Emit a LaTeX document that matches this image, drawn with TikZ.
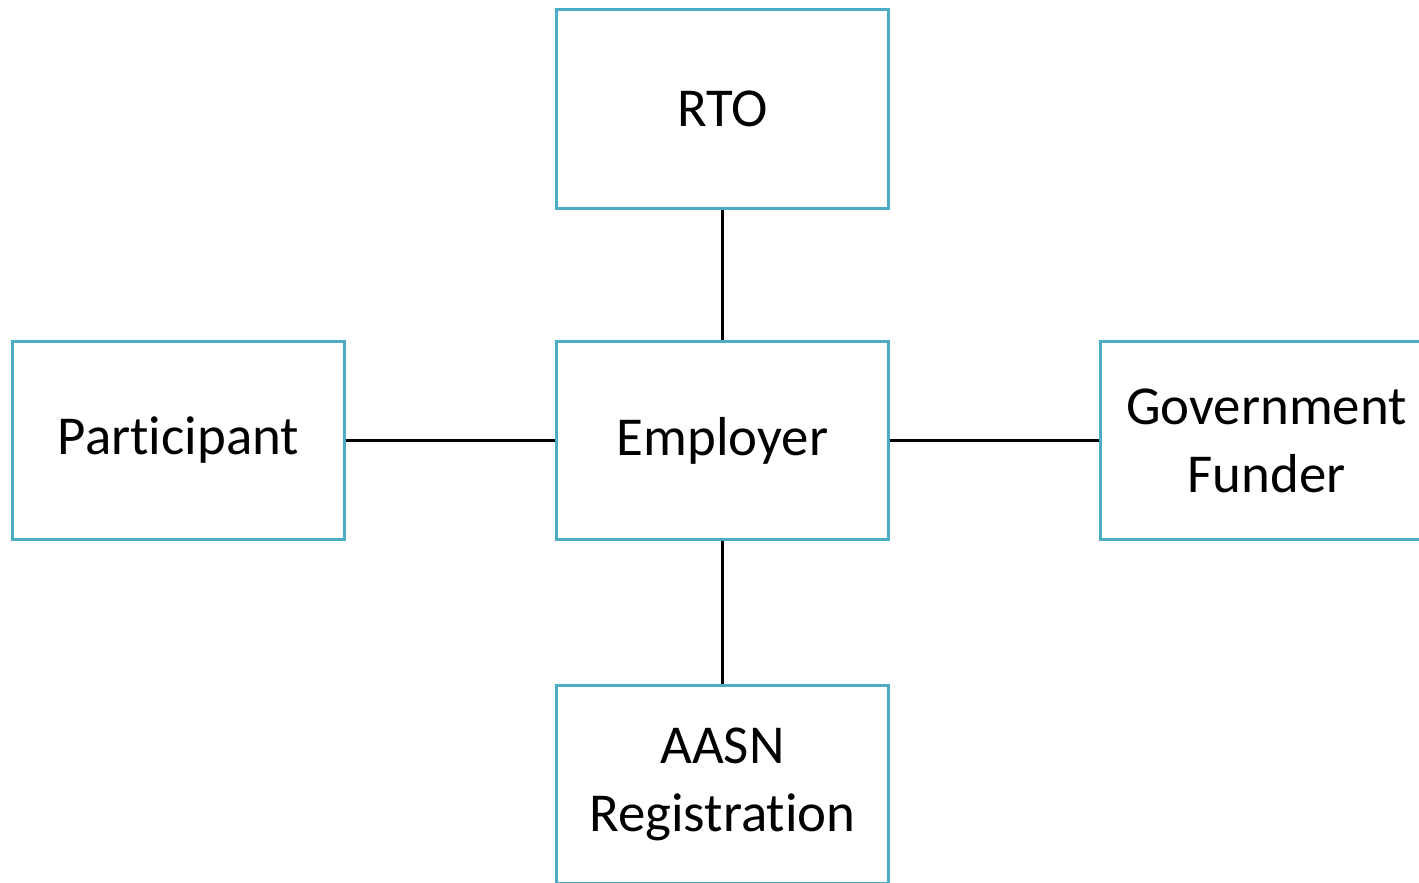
\documentclass[tikz,border=0pt]{standalone}
\usepackage{fontspec}
\setmainfont{Carlito}[Ligatures=NoCommon]
\usepackage{xcolor}
\definecolor{boxblue}{HTML}{4BACC6}

\begin{document}
\begin{tikzpicture}[x=0.01cm, y=-0.01cm,
        entity/.style={draw=boxblue, line width=0.85pt, fill=white, minimum width=3.31cm, minimum height=1.98cm, inner sep=0pt, align=center, font=\fontsize{15.6}{19.3}\selectfont},
        link/.style={line width=0.7pt}]
        \useasboundingbox[clip] (0,0) rectangle (1419,882);

        % Centre box
        \node[entity] (employer) at (722.5,440.5) {Employer};

        % Surrounding boxes
        \node[entity] (rto) at (722.5,109) {RTO};
        \node[entity] (participant) at (178.5,440.5) {Participant};
        \node[entity] (funder) at (1266.5,440.5) {Government\\Funder};
        \node[entity] (aasn) at (722.5,784.5) {AASN\\Registration};

        % Links
        \draw[link] (employer.north) -- (rto.south);
        \draw[link] (employer.west) -- (participant.east);
        \draw[link] (employer.east) -- (funder.west);
        \draw[link] (employer.south) -- (aasn.north);

    \end{tikzpicture}
\end{document}
